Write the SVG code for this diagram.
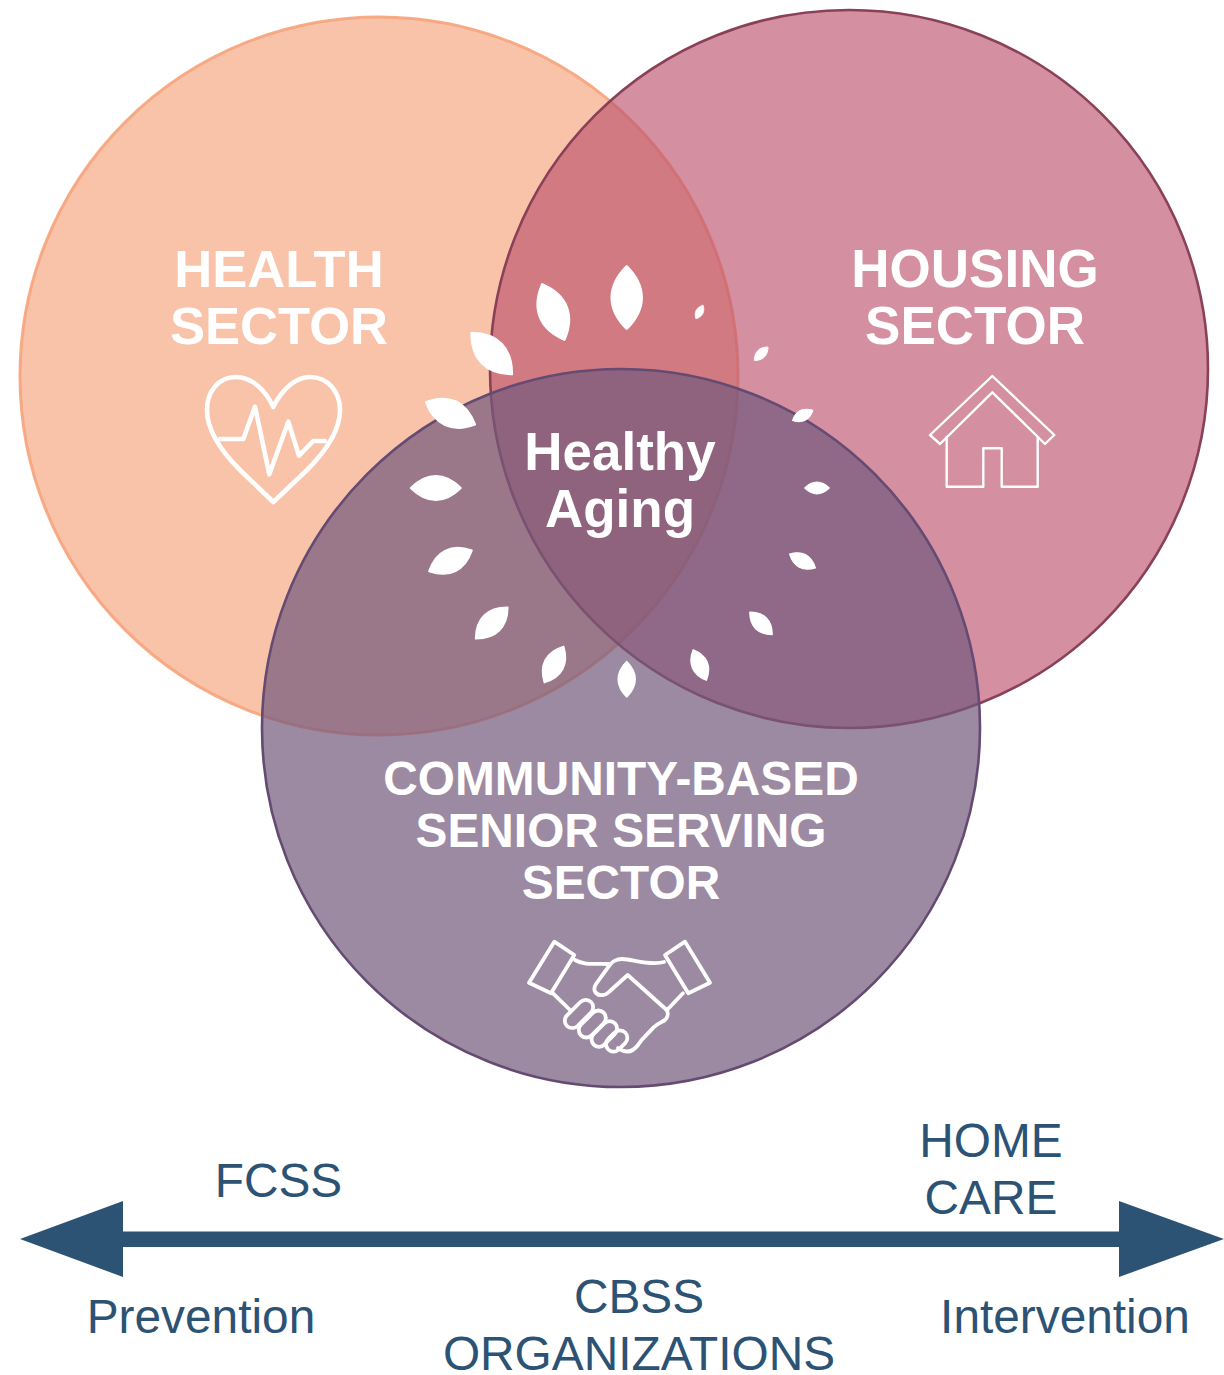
<svg xmlns="http://www.w3.org/2000/svg" xmlns:xlink="http://www.w3.org/1999/xlink" width="1224" height="1375" viewBox="0 0 1224 1375">
<style>
.t{font-family:"Liberation Sans",Arial,sans-serif;text-anchor:middle}
.w{fill:#fff;font-weight:bold}
.b{fill:#2c5274;font-size:47.8px}
.ic{fill:none;stroke:#fff;stroke-linejoin:round;stroke-linecap:round}
</style>
<defs>
<path id="leaf" fill="#fff" stroke="#fff" stroke-width="4" stroke-linejoin="round" d="M0 -48C12 -36 23 -20 23 0C23 20 12 36 0 48C-12 36 -23 20 -23 0C-23 -20 -12 -36 0 -48Z"/>
</defs>
<rect width="1224" height="1375" fill="#fff"/>
<g id="circle-health"><circle cx="379" cy="376" r="359" fill="#f6a37b" fill-opacity=".65" stroke="#f6a37b" stroke-width="3" stroke-opacity=".9"/></g>
<g id="circle-housing"><circle cx="849" cy="369" r="359" fill="#bd536d" fill-opacity=".65" stroke="#8a4058" stroke-width="2.600"/></g>
<g id="circle-community"><circle cx="621" cy="728" r="359" fill="#72587c" fill-opacity=".7" stroke="#654a72" stroke-width="2.600"/></g>
<g id="leaves">
<use xlink:href="#leaf" href="#leaf" transform="translate(626.7 297.5) scale(.65)"/>
<use xlink:href="#leaf" href="#leaf" transform="translate(553.3 312) rotate(-22) scale(.62)"/>
<use xlink:href="#leaf" href="#leaf" transform="translate(491.7 353.6) rotate(-44.5) scale(.6)"/>
<use xlink:href="#leaf" href="#leaf" transform="translate(450.5 413.3) rotate(-65.4) scale(.56)"/>
<use xlink:href="#leaf" href="#leaf" transform="translate(435.8 488) rotate(90) scale(.52)"/>
<use xlink:href="#leaf" href="#leaf" transform="translate(450.5 560.8) rotate(64) scale(.494)"/>
<use xlink:href="#leaf" href="#leaf" transform="translate(491.7 623) rotate(45.6) scale(.466)"/>
<use xlink:href="#leaf" href="#leaf" transform="translate(554 664.5) rotate(28) scale(.426)"/>
<use xlink:href="#leaf" href="#leaf" transform="translate(626.7 679.2) scale(.37)"/>
<use xlink:href="#leaf" href="#leaf" transform="translate(699.8 665) rotate(-23.4) scale(.345)"/>
<use xlink:href="#leaf" href="#leaf" transform="translate(761 623.3) rotate(-45) scale(.33)"/>
<use xlink:href="#leaf" href="#leaf" transform="translate(802.5 561) rotate(-62) scale(.305)"/>
<use xlink:href="#leaf" href="#leaf" transform="translate(817 488) rotate(90) scale(.26)"/>
<use xlink:href="#leaf" href="#leaf" transform="translate(802.7 415.4) rotate(63.3) scale(.238)"/>
<use xlink:href="#leaf" href="#leaf" transform="translate(761.2 353.7) rotate(45.6) scale(.2)"/>
<use xlink:href="#leaf" href="#leaf" transform="translate(699.5 312) rotate(28) scale(.162)"/>
</g>
<g id="node-health">
<text class="t w" font-size="52.6" x="279" y="287">HEALTH</text>
<text class="t w" font-size="52.6" x="279" y="344">SECTOR</text>
<path class="ic" stroke-width="4.6" d="M273.3 407C265 389 251 377 236 377C218 377 207 392 207 410C207 432 222 452 240 470L273.3 502L307 470C325 452 340 432 340 410C340 392 328 377 310 377C296 377 282 389 273.3 407Z"/>
<path class="ic" stroke-width="4.6" d="M220 439H243.3L255 406.7L269.3 474.3L288.3 421.7L299 455.700L313.3 441H325"/>
</g>
<g id="node-housing">
<text class="t w" font-size="53" x="975" y="287">HOUSING</text>
<text class="t w" font-size="53" x="975" y="344">SECTOR</text>
<path class="ic" stroke-width="2.400" d="M992.3 376L1054.3 435L1045 444L992.3 392.3L940 444L930 435Z"/>
<path class="ic" stroke-width="2.400" d="M946.7 437V486.7H983.3V448.3H1001.7V486.7H1037.7V437"/>
</g>
<g id="node-community">
<text class="t w" font-size="47.8" x="621" y="794.500">COMMUNITY-BASED</text>
<text class="t w" font-size="47.8" x="621" y="846.500">SENIOR SERVING</text>
<text class="t w" font-size="47.8" x="621" y="898.500">SECTOR</text>
<g class="ic" stroke-width="3.800">
<path d="M554.3 941.7L574.3 955L551 993.3L529 982.7Z"/>
<path d="M685 941.7L665 955L688.3 993.3L710 982.7Z"/>
<path d="M575 960C585 966 597 963 608.3 964"/>
<path d="M664 962C650 966 632 959 622 959C615 959 612 962 609 966L596 984C592 990 596 996 603 995C606 995 608 993 610 991L627.700 975L666.700 1010C669 1014 667 1018 665 1020C660 1023 655 1025 652 1029C648 1034 643 1037 638 1045C632 1053 625 1053 618 1048"/>
<path d="M553 993.3L570 1010M683 993.3L667 1010"/>
<rect x="562" y="1006.500" width="34" height="15" rx="7.500" transform="rotate(-45 579 1014)"/>
<rect x="576.3" y="1016.500" width="32" height="15" rx="7.500" transform="rotate(-45 592.3 1024)"/>
<rect x="589.3" y="1026.500" width="30" height="15" rx="7.500" transform="rotate(-45 604.3 1034)"/>
<rect x="604.7" y="1033.500" width="24" height="15" rx="7.500" transform="rotate(-45 616.7 1041)"/>
</g>
</g>
<g id="node-center">
<text class="t w" font-size="53" x="620" y="470">Healthy</text>
<text class="t w" font-size="53" x="620" y="527">Aging</text>
</g>
<g id="connectors">
<path fill="#2c5274" d="M20 1239L123 1201V1231.500H1119V1201L1224 1239L1119 1277V1247H123V1277Z"/>
</g>
<g id="labels">
<text class="t b" x="278.500" y="1197">FCSS</text>
<text class="t b" x="991" y="1157">HOME</text>
<text class="t b" x="991" y="1214">CARE</text>
<text class="t b" x="201" y="1332.500">Prevention</text>
<text class="t b" x="1065" y="1332.500">Intervention</text>
<text class="t b" x="639" y="1313">CBSS</text>
<text class="t b" x="639" y="1369.500">ORGANIZATIONS</text>
</g>
</svg>
